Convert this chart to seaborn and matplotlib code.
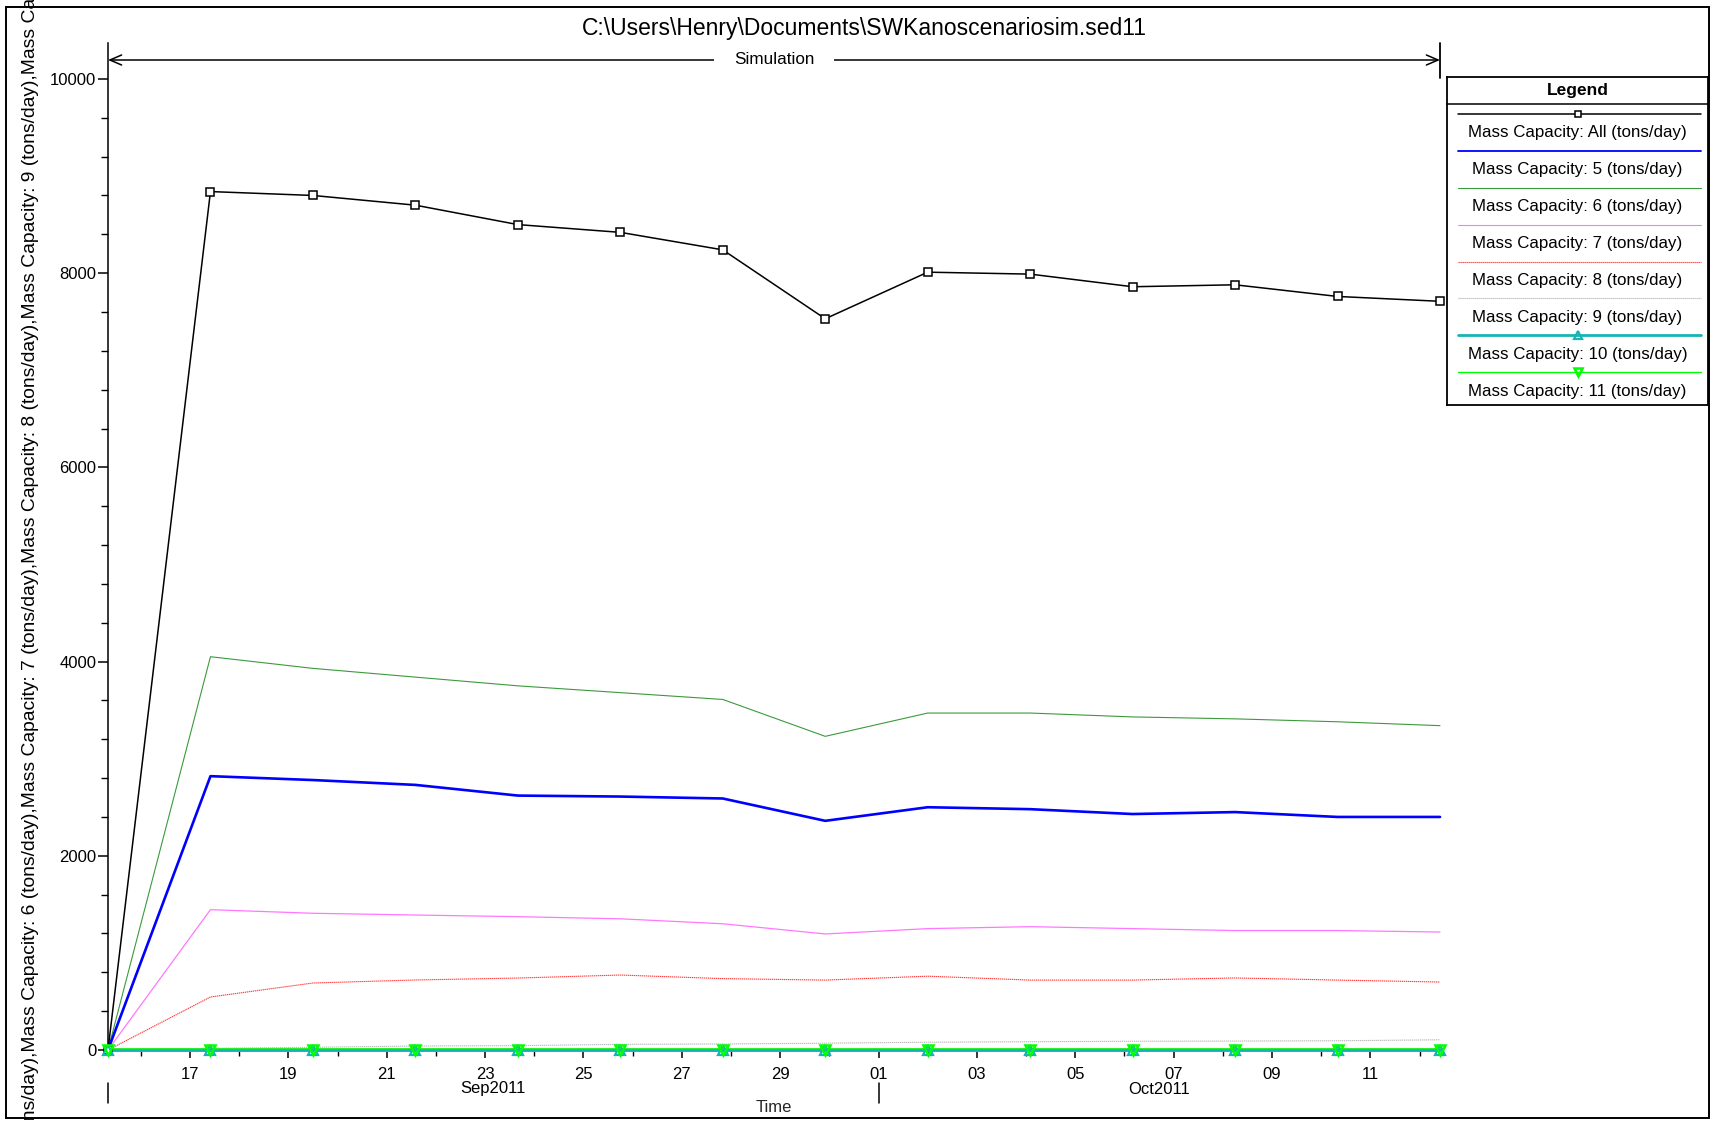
import pandas as pd
import matplotlib
matplotlib.use("Agg")
import matplotlib.pyplot as plt
import matplotlib.dates as mdates
from matplotlib.ticker import MultipleLocator
from matplotlib.transforms import blended_transform_factory
from matplotlib.patches import Rectangle
from matplotlib.lines import Line2D
import seaborn as sns

# ---- data -------------------------------------------------------------
times = pd.to_datetime([
    "2011-09-15 08:00", "2011-09-17 10:00", "2011-09-19 12:00", "2011-09-21 14:00",
    "2011-09-23 16:00", "2011-09-25 18:00", "2011-09-27 20:00", "2011-09-29 22:00",
    "2011-10-02 00:00", "2011-10-04 02:00", "2011-10-06 04:00", "2011-10-08 06:00",
    "2011-10-10 08:00", "2011-10-12 10:00",
])

cap_all = [0, 8840, 8800, 8700, 8500, 8420, 8240, 7530, 8010, 7990, 7860, 7880, 7760, 7710]
cap_5 = [0, 2820, 2780, 2730, 2620, 2610, 2590, 2360, 2500, 2480, 2430, 2450, 2400, 2400]
cap_6 = [0, 4050, 3930, 3840, 3750, 3680, 3610, 3230, 3470, 3470, 3430, 3410, 3380, 3340]
cap_7 = [0, 1445, 1408, 1390, 1373, 1351, 1300, 1195, 1250, 1270, 1250, 1230, 1230, 1215]
cap_8 = [0, 546, 690, 721, 741, 772, 735, 720, 760, 720, 720, 742, 720, 700]
cap_9 = [0, 17, 28, 41, 45, 58, 62, 70, 80, 85, 90, 92, 95, 105]
cap_10 = [0, 0, 0, 0, 0, 0, 0, 0, 0, 0, 0, 0, 0, 0]
cap_11 = [0, 0, 0, 0, 0, 0, 0, 0, 0, 0, 0, 0, 0, 0]

series_keys = ["All", "5", "6", "7", "8", "9", "10", "11"]
series_vals = [cap_all, cap_5, cap_6, cap_7, cap_8, cap_9, cap_10, cap_11]
series_labels = [f"Mass Capacity: {k} (tons/day)" for k in series_keys]

title_text = r"C:\Users\Henry\Documents\SWKanoscenariosim.sed11"
month_names = ["Sep2011", "Oct2011"]
month_starts = pd.to_datetime(["2011-09-15 08:00", "2011-10-01 00:00"])

# ---- styles -----------------------------------------------------------
# z: line layer, mz: marker layer
styles = {
    "All": dict(color="black", lw=1.1, ls="-", marker="s", ms=5.5, mfc="white", mec="black", mew=1.1, z=9, mz=9.5),
    "5": dict(color="#0000FF", lw=1.9, ls="-", marker=None, z=7),
    "6": dict(color="#3C9A3C", lw=0.8, ls="-", marker=None, z=6),
    "7": dict(color="#FF77FF", lw=0.9, ls="-", marker=None, z=5),
    "8": dict(color="#FF3B3B", lw=0.8, ls=(0, (1.2, 0.6)), marker=None, z=4),
    "9": dict(color="#BBBBBB", lw=0.8, ls=(0, (1.2, 0.6)), marker=None, z=3),
    "10": dict(color="#16B4B4", lw=1.9, ls="-", marker="^", ms=6.5, mfc="none", mec="#16B4B4", mew=1.6, z=8.5, mz=10),
    "11": dict(color="#22F022", lw=2.8, ls="-", marker="v", ms=6.5, mfc="none", mec="#00FF00", mew=1.8, z=8, mz=10.5),
}

sns.set_theme(style="white")
plt.rcParams["font.family"] = ["Liberation Sans", "DejaVu Sans"]

W, H = 1711, 1121
fig = plt.figure(figsize=(W / 100, H / 100), dpi=100)
fig.patch.set_facecolor("white")

ax = fig.add_axes([108 / W, 1 - 1050 / H, (1440 - 108) / W, (1050 - 43) / H])
ax.set_facecolor("white")

df = pd.DataFrame({"Time": list(times) * len(series_keys),
                   "value": [v for vals in series_vals for v in vals],
                   "series": [k for k in series_keys for _ in times]})

for key in series_keys:
    st = styles[key]
    sub = df[df["series"] == key]
    sns.lineplot(data=sub, x="Time", y="value", ax=ax, legend=False,
                 color=st["color"], linewidth=st["lw"], linestyle=st["ls"],
                 zorder=st["z"], clip_on=False)
    if st["marker"]:
        sns.lineplot(data=sub, x="Time", y="value", ax=ax, legend=False,
                     linestyle="none", marker=st["marker"], markersize=st["ms"],
                     markerfacecolor=st["mfc"], markeredgecolor=st["mec"],
                     markeredgewidth=st["mew"], zorder=st["mz"], clip_on=False)

ax.set_xlim(times[0], times[-1])
ax.set_ylim(0, 10370)

# axes frame
for side in ["top", "right"]:
    ax.spines[side].set_visible(False)
for side in ["left", "bottom"]:
    ax.spines[side].set_visible(True)
    ax.spines[side].set_color("black")
    ax.spines[side].set_linewidth(1.1)

ax.yaxis.set_major_locator(MultipleLocator(2000))
ax.yaxis.set_minor_locator(MultipleLocator(400))
ax.xaxis.set_major_locator(mdates.DayLocator(bymonthday=list(range(1, 32, 2))))
ax.xaxis.set_minor_locator(mdates.DayLocator())
ax.xaxis.set_major_formatter(mdates.DateFormatter("%d"))

ax.tick_params(axis="y", which="major", length=7, width=1.1, color="black",
               direction="out", labelsize=12, pad=1.5, left=True)
ax.tick_params(axis="y", which="minor", length=5, width=1.0, color="black",
               direction="out", left=True)
ax.tick_params(axis="x", which="major", length=6, width=1.1, color="black",
               direction="out", labelsize=12, pad=6, bottom=True)
ax.tick_params(axis="x", which="minor", length=4, width=1.0, color="black",
               direction="out", bottom=True)
for lbl in ax.get_xticklabels() + ax.get_yticklabels():
    lbl.set_color("black")
ax.set_xlabel("")
ax.set_ylabel("")
ax.grid(False)

# month band below the day labels
bt = blended_transform_factory(ax.transData, fig.transFigure)
month_ends = [month_starts[1], times[-1]]
for name, m0, m1 in zip(month_names, month_starts, month_ends):
    mid = m0 + (m1 - m0) / 2
    ax.text(mdates.date2num(mid), 1 - 1089 / H, name, transform=bt,
            ha="center", va="center", fontsize=12, color="black")
for m0 in month_starts:
    x = mdates.date2num(m0)
    ax.add_line(Line2D([x, x], [1 - 1083 / H, 1 - 1103 / H], transform=bt,
                       color="black", lw=1.1, clip_on=False))
fig.text(774 / W, 1 - 1107 / H, "Time", ha="center", va="center", fontsize=12)

# simulation span arrow above the plot
ba = blended_transform_factory(ax.transAxes, fig.transFigure)
ax.annotate("", xy=(0, 1 - 60 / H), xytext=(1, 1 - 60 / H), xycoords=ba, textcoords=ba,
            arrowprops=dict(arrowstyle="<->,head_length=0.7,head_width=0.3",
                            color="black", lw=1.1, shrinkA=0, shrinkB=0),
            annotation_clip=False)
ax.add_line(Line2D([1, 1], [1 - 43 / H, 1 - 78 / H], transform=ba,
                   color="black", lw=1.3, clip_on=False))
ax.text(0.5, 1 - 60 / H, "Simulation", transform=ba, ha="center", va="center",
        fontsize=12.3, color="black",
        bbox=dict(facecolor="white", edgecolor="none", pad=14))

# title
fig.text(0.505, 1 - 29 / H, title_text, ha="center", va="center", fontsize=16.5, color="black")

# long y label, centred and cut by the figure edges
fig.text(31 / W, 0.5, ",".join(series_labels), rotation=90, ha="center", va="center",
         fontsize=13.9, color="black")

# legend panel
lx0, ly0, lx1, ly1 = 1447, 77, 1708, 405
lax = fig.add_axes([lx0 / W, 1 - ly1 / H, (lx1 - lx0) / W, (ly1 - ly0) / H])
lax.set_xlim(0, lx1 - lx0)
lax.set_ylim(ly1 - ly0, 0)
lax.set_xticks([])
lax.set_yticks([])
lax.set_facecolor("white")
for s in lax.spines.values():
    s.set_visible(True)
    s.set_color("black")
    s.set_linewidth(1.3)
lax.text((lx1 - lx0) / 2, 13, "Legend", ha="center", va="center", fontsize=12.5,
         fontweight="bold", color="black")
lax.plot([0, lx1 - lx0], [27, 27], color="black", lw=1.1, clip_on=False)
legend_lw = {"All": 1.1, "5": 1.3, "6": 0.8, "7": 0.8, "8": 0.8, "9": 0.8, "10": 2.0, "11": 1.0}
row_h = 36.9
for i, (key, label) in enumerate(zip(series_keys, series_labels)):
    st = styles[key]
    yl = 37 + row_h * i
    lax.plot([11, 254], [yl, yl], color=st["mec"] if st["marker"] else st["color"],
             linewidth=legend_lw[key], linestyle=st["ls"])
    if st["marker"]:
        lax.plot([(lx1 - lx0) / 2], [yl], linestyle="none", marker=st["marker"],
                 markersize=st["ms"] * 0.85, markerfacecolor=st["mfc"],
                 markeredgecolor=st["mec"], markeredgewidth=st["mew"])
    lax.text((lx1 - lx0) / 2, yl + 19, label, ha="center", va="center",
             fontsize=12.2, color="black")

# outer frame
fig.patches.append(Rectangle((6 / W, 1 - 1118 / H), (1709 - 6) / W, (1118 - 7) / H,
                             transform=fig.transFigure, fill=False,
                             edgecolor="black", linewidth=1.4, zorder=20))

fig.savefig("out.png", dpi=100, facecolor="white")
